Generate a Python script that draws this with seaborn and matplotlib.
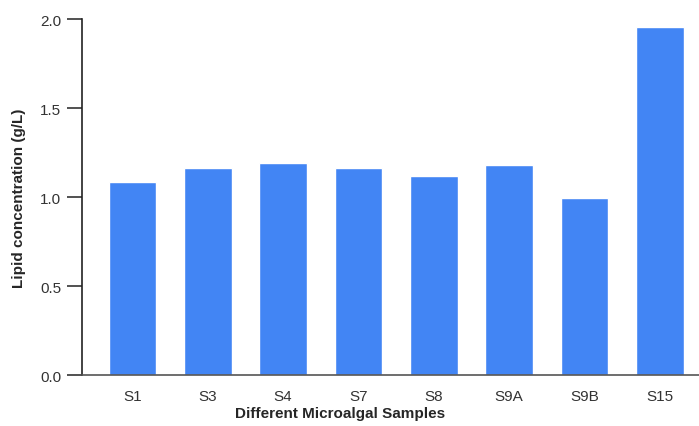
import matplotlib
matplotlib.use("Agg")
import matplotlib.pyplot as plt
import seaborn as sns
import pandas as pd

# lipid yield per microalgal sample (g/L)
samples = ["S1", "S3", "S4", "S7", "S8", "S9A", "S9B", "S15"]
lipid = [1.086, 1.161, 1.194, 1.161, 1.12, 1.18, 0.993, 1.955]

df = pd.DataFrame({"Sample": samples, "Lipid": lipid})

sns.set_style("white")
plt.rcParams["font.family"] = ["Liberation Sans Narrow", "Liberation Sans", "DejaVu Sans"]

fig = plt.figure(figsize=(6.99, 4.27), dpi=100)
ax = fig.add_axes([0.1173, 0.1194, 0.8827, 0.8336])

sns.barplot(data=df, x="Sample", y="Lipid", color="#4285F4", saturation=1,
            width=0.63, ax=ax)

ax.set_xlim(-0.67, 7.52)
ax.set_ylim(0, 2.0)
ax.set_yticks([0.0, 0.5, 1.0, 1.5, 2.0])
ax.set_yticklabels(["0.0", "0.5", "1.0", "1.5", "2.0"])

sns.despine(ax=ax, top=True, right=True)
ax.spines["left"].set_color("#222222")
ax.spines["bottom"].set_color("#555555")
ax.spines["left"].set_linewidth(1.2)
ax.spines["bottom"].set_linewidth(1.2)

ax.tick_params(axis="y", length=11, width=1.2, color="#333333",
               labelsize=11, labelcolor="#333333", pad=4, left=True)
ax.tick_params(axis="x", length=0, labelsize=11, labelcolor="#333333", pad=10)

ax.set_xlabel("Different Microalgal Samples", fontsize=11, fontweight="bold")
ax.set_ylabel("Lipid concentration (g/L)", fontsize=11, fontweight="bold",
              labelpad=10)
ax.xaxis.set_label_coords(0.418, -0.088)

fig.savefig("out.png", dpi=100)
